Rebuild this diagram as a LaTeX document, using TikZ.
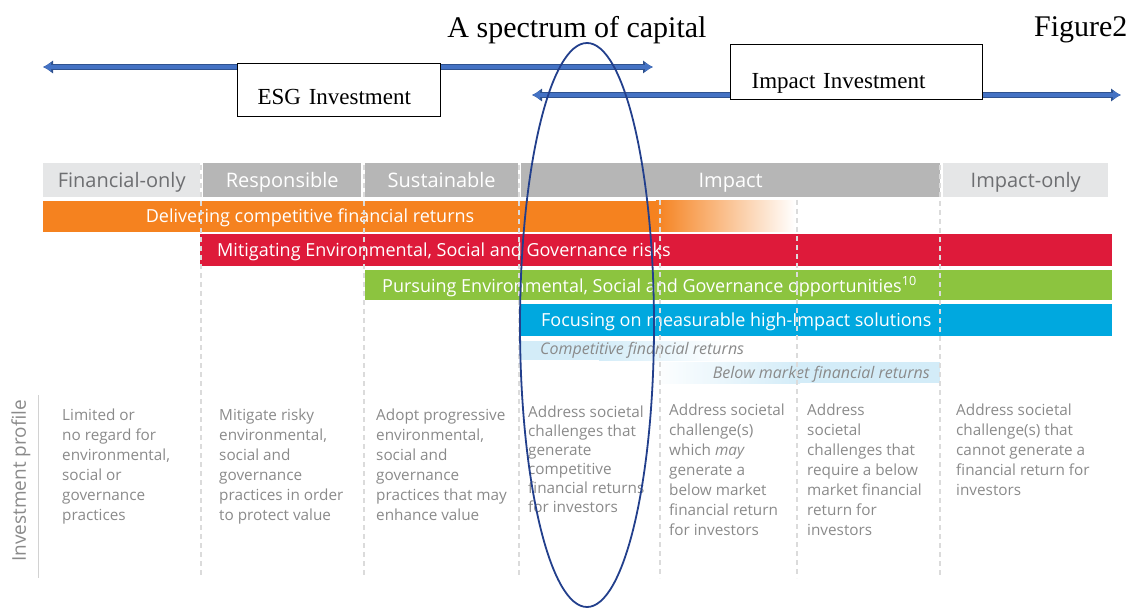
\documentclass[tikz,border=0pt]{standalone}
\usepackage{fontspec}
\setmainfont{Liberation Serif}
\setsansfont{Open Sans}
\usetikzlibrary{arrows.meta}

\definecolor{hdrgrey}{HTML}{B6B6B6}
\definecolor{hdrlight}{HTML}{E5E6E7}
\definecolor{hdrtext}{HTML}{6D6E71}
\definecolor{barorange}{HTML}{F5821F}
\definecolor{barred}{HTML}{DE1A3A}
\definecolor{bargreen}{HTML}{8CC43F}
\definecolor{barblue}{HTML}{00A8DF}
\definecolor{paleblue}{HTML}{D3ECF8}
\definecolor{proftext}{HTML}{8A8A8A}
\definecolor{arrowfill}{HTML}{4472C4}
\definecolor{arrowedge}{HTML}{2F528F}
\definecolor{ringblue}{HTML}{223F8C}

\begin{document}
\begin{tikzpicture}[x=1pt,y=-1pt,
	every node/.style={font=\sffamily},
	hdr/.style={anchor=north west, text height=24pt, text depth=10pt, inner sep=0pt, font=\sffamily\fontsize{20}{20}\selectfont},
	bartext/.style={anchor=west, inner sep=0pt, text=white, font=\sffamily\fontsize{18}{20}\selectfont},
	returns/.style={inner sep=0pt, text=proftext, font=\sffamily\itshape\fontsize{16}{18}\selectfont},
	profile/.style={anchor=north west, align=left, inner sep=0pt, text=proftext, font=\sffamily\fontsize{15.3}{20}\selectfont},
	colsep/.style={gray!28, line width=1.3pt, dash pattern=on 5pt off 4pt},
	arrowback/.style={arrowedge, line width=6.5pt, {Latex[length=10pt,width=14pt]}-{Latex[length=10pt,width=14pt]}},
	arrowfront/.style={arrowfill, line width=4pt, {Latex[length=8pt,width=10pt]}-{Latex[length=8pt,width=10pt]}},
	labelbox/.style={draw=black, line width=1.3pt, fill=white, anchor=north west, inner ysep=0pt, align=left, font=\rmfamily\fontsize{23}{24}\selectfont}]
	\useasboundingbox (0,0) rectangle (1134,609);

	% titles
	\node[font=\rmfamily\fontsize{30}{32}\selectfont] (title) at (577,30) {A spectrum of capital};
	\node[anchor=east, font=\rmfamily\fontsize{30}{32}\selectfont] (figlabel) at (1131,30) {Figure2};

	% ESG and impact ranges
	\coordinate (esgL) at (43,67);
	\coordinate (esgR) at (653,67);
	\coordinate (impL) at (532,95);
	\coordinate (impR) at (1121,95);
	\draw[arrowback] (esgL) -- (esgR);
	\draw[arrowfront] (esgL) -- (esgR);
	\draw[arrowback] (impL) -- (impR);
	\draw[arrowfront] (impL) -- (impR);
	\node[labelbox, text width=163pt, inner xsep=20pt, text height=41pt, text depth=12pt] (esgbox) at (237,63) {ESG Investment};
	\node[labelbox, text width=210pt, inner xsep=21pt, text height=44pt, text depth=11pt] (impbox) at (730,44) {Impact Investment};

	% header row
	\node[hdr, fill=hdrlight, text=hdrtext, minimum width=157pt] (finonly) at (43,163) {Financial-only};
	\node[hdr, fill=hdrgrey, text=white, minimum width=158pt] (resp) at (203,163) {Responsible};
	\node[hdr, fill=hdrgrey, text=white, minimum width=153pt] (sust) at (365,163) {Sustainable};
	\node[hdr, fill=hdrgrey, text=white, minimum width=419pt] (impact) at (521,163) {Impact};
	\node[hdr, fill=hdrlight, text=hdrtext, minimum width=165pt] (imponly) at (943,163) {Impact-only};

	% bars
	\fill[barorange] (43,201) rectangle (657,232);
	\shade[left color=barorange, right color=white] (656,201) rectangle (795,232);
	\fill[barred] (200,234) rectangle (1112,266);
	\fill[bargreen] (365,270) rectangle (1112,300);
	\fill[barblue] (520,304) rectangle (1112,336);
	\fill[paleblue] (520,341) rectangle (600,360);
	\shade[left color=paleblue, right color=white] (599,341) rectangle (725,360);
	\shade[left color=white, right color=paleblue] (650,362) rectangle (800,383);
	\fill[paleblue] (799,362) rectangle (940,383);

	\node[bartext, anchor=center] (deliver) at (310,218) {Delivering competitive financial returns};
	\node[bartext] (mitigate) at (217,251.5) {Mitigating Environmental, Social and Governance risks};
	\node[bartext] (pursue) at (382,286.5) {Pursuing Environmental, Social and Governance opportunities\textsuperscript{10}};
	\node[bartext] (focus) at (541,321.5) {Focusing on measurable high-Impact solutions};
	\node[returns, anchor=west] (compret) at (540,350.5) {Competitive financial returns};
	\node[returns, anchor=east] (belowret) at (930,374.5) {Below market financial returns};

	% column separators
	\foreach \cx in {201,364,519,940}
		\draw[colsep] (\cx,165) -- (\cx,578);
	\foreach \cx in {660,797}
		\draw[colsep] (\cx,200) -- (\cx,578);

	% investment profile
	\node[rotate=90, text=proftext, font=\sffamily\fontsize{19}{22}\selectfont] (proflabel) at (21,481) {Investment profile};
	\draw[gray!35, line width=1pt] (38,395) -- (38,578);
	\node[profile] (prof1) at (62,409) {Limited or\\no regard for\\environmental,\\social or\\governance\\practices};
	\node[profile] (prof2) at (219,409) {Mitigate risky\\environmental,\\social and\\governance\\practices in order\\to protect value};
	\node[profile] (prof3) at (376,409) {Adopt progressive\\environmental,\\social and\\governance\\practices that may\\enhance value};
	\node[profile, font=\sffamily\fontsize{15.3}{19}\selectfont] (prof4) at (528,406) {Address societal\\challenges that\\generate\\competitive\\financial returns\\for investors};
	\node[profile] (prof5) at (669,404) {Address societal\\challenge(s)\\which \textit{may}\\generate a\\below market\\financial return\\for investors};
	\node[profile] (prof6) at (807,404) {Address\\societal\\challenges that\\require a below\\market financial\\return for\\investors};
	\node[profile] (prof7) at (956,404) {Address societal\\challenge(s) that\\cannot generate a\\financial return for\\investors};

	% highlight ring
	\draw[ringblue, line width=1.8pt] (587,325) ellipse [x radius=67, y radius=282];
\end{tikzpicture}
\end{document}
